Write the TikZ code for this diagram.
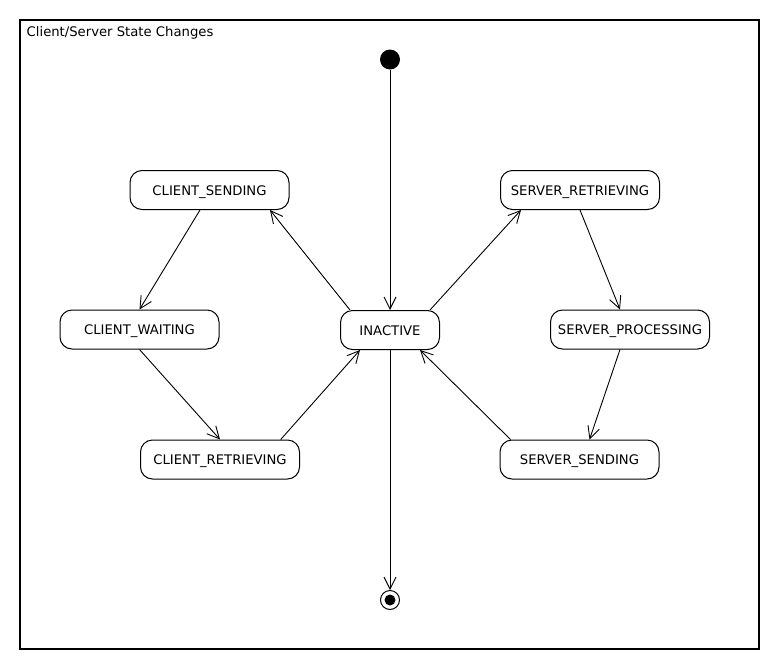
\documentclass[tikz,border=0pt]{standalone}
\usepackage{fontspec}
\setmainfont{DejaVu Sans}
\usetikzlibrary{arrows.meta}
\begin{document}
\begin{tikzpicture}[x=1pt,y=-1pt,
  every node/.style={font=\fontsize{13.2}{15}\selectfont},
  state/.style={draw, line width=1pt, rounded corners=12pt, minimum width=159pt, minimum height=39pt, inner sep=0pt, text height=10.2pt, text depth=0pt},
  trans/.style={draw, line width=0.9pt, -{Straight Barb[length=12pt,width=12pt,line width=0.9pt]}}]
\useasboundingbox (0,0) rectangle (780,670);
\draw[line width=1.1pt] (20,20) rectangle (759,649);
\node[anchor=base west, inner sep=0pt] (title) at (26.5,36) {Client/Server State Changes};

\node[circle, fill=black, minimum size=20pt, inner sep=0pt] (init) at (390,59.5) {};
\node[circle, draw, line width=1pt, minimum size=19pt, inner sep=0pt] (final) at (390,600) {};
\node[circle, fill=black, minimum size=11pt, inner sep=0pt] (finaldot) at (390,600) {};

\node[state] (cs) at (209.5,190) {CLIENT\_SENDING};
\node[state] (cw) at (139.5,329.5) {CLIENT\_WAITING};
\node[state] (cr) at (220,459.5) {CLIENT\_RETRIEVING};
\node[state, minimum width=99pt] (in) at (390,330) {INACTIVE};
\node[state] (sr) at (580,190) {SERVER\_RETRIEVING};
\node[state] (sp) at (630,329.5) {SERVER\_PROCESSING};
\node[state] (ss) at (579.5,459.5) {SERVER\_SENDING};

\draw[trans] (init) -- (in.north);
\draw[trans] (in.south) -- (final.north);
\draw[trans] ([xshift=-40pt]in.north) -- ([xshift=60.5pt]cs.south);
\draw[trans] ([xshift=-9.5pt]cs.south) -- (cw.north);
\draw[trans] (cw.south) -- (cr.north);
\draw[trans] ([xshift=60.7pt]cr.north) -- ([xshift=-30pt]in.south);
\draw[trans] ([xshift=40pt]in.north) -- ([xshift=-59pt]sr.south);
\draw[trans] (sr.south) -- ([xshift=-10pt]sp.north);
\draw[trans] ([xshift=-10pt]sp.south) -- ([xshift=10pt]ss.north);
\draw[trans] ([xshift=-69pt]ss.north) -- ([xshift=30pt]in.south);
\end{tikzpicture}
\end{document}
